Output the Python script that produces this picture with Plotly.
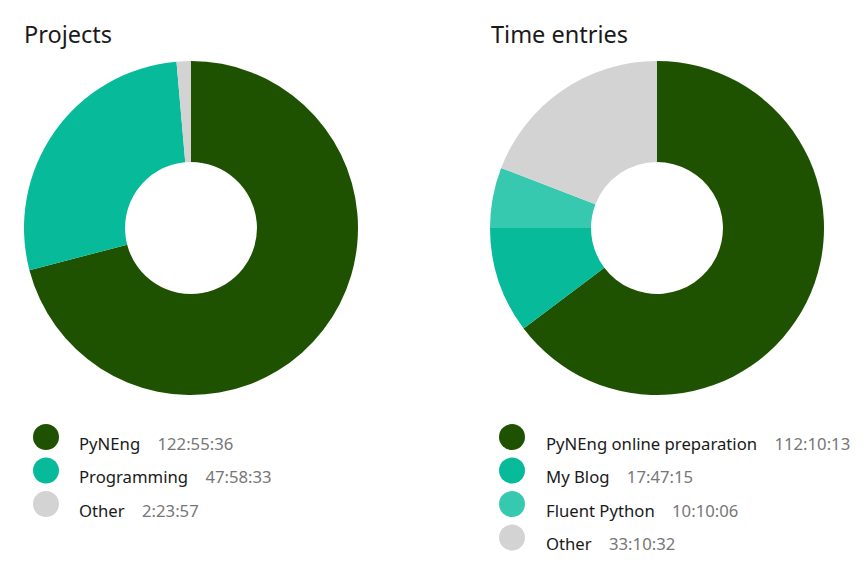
import plotly.graph_objects as go

W, H = 868, 571

proj_names = ["PyNEng", "Programming", "Other"]
proj_times = ["122:55:36", "47:58:33", "2:23:57"]
proj_colors = ["#1F5200", "#06BA9A", "#D3D3D3"]

entry_names = ["PyNEng online preparation", "My Blog", "Fluent Python", "Other"]
entry_times = ["112:10:13", "17:47:15", "10:10:06", "33:10:32"]
entry_colors = ["#1F5200", "#06BA9A", "#37C9B0", "#D3D3D3"]


def to_sec(t):
    h, m, s = (int(p) for p in t.split(":"))
    return h * 3600 + m * 60 + s


def px(x):
    return x / W


def py(y):
    return 1 - y / H


FONT = "Noto Sans"
fig = go.Figure()


def add_donut(names, times, colors, cx, cy, r):
    fig.add_trace(go.Pie(
        labels=names, values=[to_sec(t) for t in times],
        marker=dict(colors=colors, line=dict(width=0)),
        hole=0.395, sort=False, direction="clockwise", rotation=0,
        textinfo="none", hoverinfo="label",
        domain=dict(x=[px(cx - r), px(cx + r)], y=[py(cy + r), py(cy - r)]),
        showlegend=False,
    ))


add_donut(proj_names, proj_times, proj_colors, 191, 228, 167)
add_donut(entry_names, entry_times, entry_colors, 657, 228, 167)

shapes = []
annotations = []


def add_title(text, x, y):
    annotations.append(dict(text=text, x=px(x), y=py(y), xref="paper", yref="paper",
                            xanchor="left", yanchor="middle", showarrow=False,
                            font=dict(family=FONT, size=23.5, color="#1a1a1a")))


def add_legend(names, times, colors, cx, tx, y0, dy):
    for i, (n, t, c) in enumerate(zip(names, times, colors)):
        y = y0 + i * dy
        rr = 13
        shapes.append(dict(type="circle", xref="paper", yref="paper",
                           x0=px(cx - rr), x1=px(cx + rr), y0=py(y + rr), y1=py(y - rr),
                           fillcolor=c, line=dict(width=0)))
        txt = n + "\u00a0\u00a0\u00a0\u00a0<span style='color:#777777'>" + t + "</span>"
        annotations.append(dict(text=txt, x=px(tx), y=py(y + 6), xref="paper", yref="paper",
                                xanchor="left", yanchor="middle", showarrow=False,
                                font=dict(family=FONT, size=16.7, color="#1a1a1a")))


add_title("Projects", 22, 34)
add_title("Time entries", 489, 34)
add_legend(proj_names, proj_times, proj_colors, 46, 77, 437, 33.5)
add_legend(entry_names, entry_times, entry_colors, 512, 544, 437, 33.5)

fig.update_layout(
    width=W, height=H, autosize=False,
    margin=dict(l=0, r=0, t=0, b=0),
    paper_bgcolor="white", plot_bgcolor="white",
    shapes=shapes, annotations=annotations,
    font=dict(family=FONT),
)

fig.write_html("out.html", config={"displayModeBar": False})
